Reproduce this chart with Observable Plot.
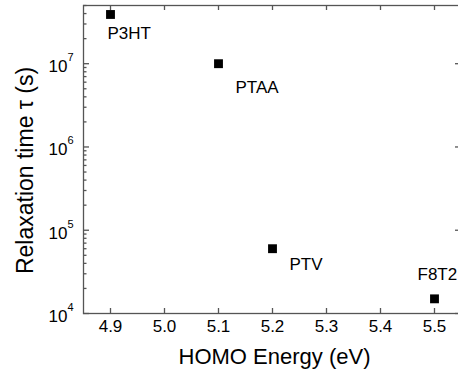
<!DOCTYPE html>
<html><head><meta charset="utf-8">
<script src="https://cdn.jsdelivr.net/npm/d3@7"></script>
<script src="https://cdn.jsdelivr.net/npm/@observablehq/plot@0.6"></script>
<style>
html,body{margin:0;padding:0;background:#fff;overflow:hidden;}
#chart{width:458px;height:375px;overflow:hidden;}
</style>
</head><body><div id="chart"></div>
<script>
// Data
const polymers = ["P3HT", "PTAA", "PTV", "F8T2"];
const homoEnergy = [4.9, 5.1, 5.2, 5.5];
const relaxTime = [3.9e7, 1.0e7, 6.0e4, 1.5e4];
// Ticks
const xTicks = [4.9, 5.0, 5.1, 5.2, 5.3, 5.4, 5.5];
const xTickLabels = ["4.9", "5.0", "5.1", "5.2", "5.3", "5.4", "5.5"];
const yTicks = [1e4, 1e5, 1e6, 1e7];
const yTickBase = ["10", "10", "10", "10"];
const yTickExp = ["4", "5", "6", "7"];
const yMinor = [2e4, 3e4, 4e4, 5e4, 6e4, 7e4, 8e4, 9e4, 2e5, 3e5, 4e5, 5e5, 6e5, 7e5, 8e5, 9e5,
                2e6, 3e6, 4e6, 5e6, 6e6, 7e6, 8e6, 9e6, 2e7, 3e7, 4e7, 5e7];
const xTitle = "HOMO Energy (eV)";
const yTitle = "Relaxation time \u03c4 (s)";

const points = polymers.map((name, i) => ({name, x: homoEnergy[i], y: relaxTime[i]}));

// label placement (pixels relative to point)
const labelOffsets = [[-3, 19], [17, 24], [17, 16], [-17, -24]];

const W = 462, H = 375, mL = 83, mR = 1, mT = 5, mB = 62;
const pw = W - mL - mR, ph = H - mT - mB;
const axisColor = "#555";
const tk = {stroke: axisColor, strokeWidth: 1.3};

const chart = Plot.plot({
  width: W, height: H, marginLeft: mL, marginRight: mR, marginTop: mT, marginBottom: mB,
  style: {fontFamily: "Liberation Sans", background: "#fff", color: "#000", maxWidth: "none"},
  x: {domain: [4.85, 5.55], axis: null},
  y: {type: "log", domain: [1e4, 5e7], axis: null},
  marks: [
    Plot.tickX(xTicks, {...tk, x: d => d, insetTop: ph - 5}),
    Plot.tickX(xTicks, {...tk, x: d => d, insetBottom: ph - 5}),
    Plot.tickY(yTicks, {...tk, y: d => d, insetRight: pw - 6}),
    Plot.tickY(yMinor, {...tk, y: d => d, insetRight: pw - 3.5}),
    Plot.tickY(yTicks, {...tk, y: d => d, insetLeft: pw - 6}),
    Plot.frame({stroke: axisColor, strokeWidth: 1.3}),
    Plot.text(xTicks, {x: d => d, frameAnchor: "bottom", text: (d, i) => xTickLabels[i], lineAnchor: "top", dy: 6, fontSize: 17}),
    Plot.text(yTicks, {y: d => d, frameAnchor: "left", text: (d, i) => yTickBase[i], textAnchor: "end", dx: -16, dy: 3, fontSize: 17}),
    Plot.text(yTicks, {y: d => d, frameAnchor: "left", text: (d, i) => yTickExp[i], textAnchor: "start", dx: -16, dy: -6, fontSize: 11}),
    Plot.dot(points, {x: "x", y: "y", symbol: "square", r: 5, fill: "#000", stroke: null}),
    ...points.map((p, i) => Plot.text([p], {x: "x", y: "y", text: "name", textAnchor: "start", dx: labelOffsets[i][0], dy: labelOffsets[i][1], fontSize: 17})),
    Plot.text([xTitle], {frameAnchor: "bottom", textAnchor: "middle", dx: 2, dy: 50, lineAnchor: "bottom", fontSize: 22}),
    Plot.text([yTitle], {frameAnchor: "left", textAnchor: "middle", rotate: -90, dx: -58, dy: 11, lineAnchor: "middle", fontSize: 23})
  ]
});
document.getElementById("chart").append(chart);
</script>
</body></html>
